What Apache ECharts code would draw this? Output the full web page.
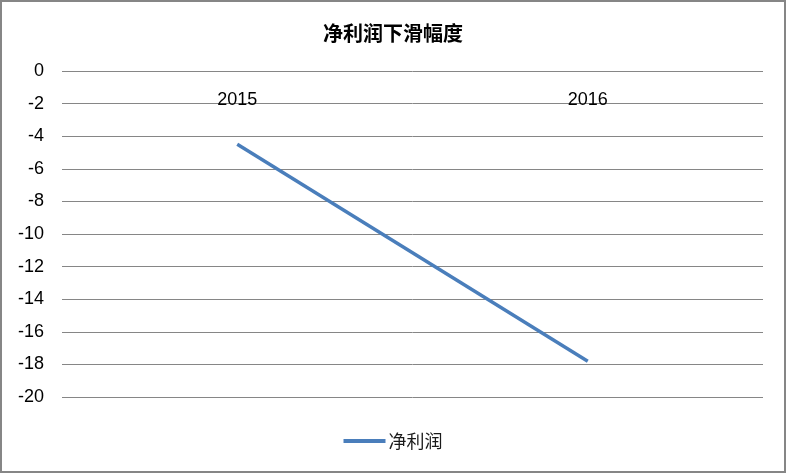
<!DOCTYPE html>
<html><head><meta charset="utf-8">
<script src="https://cdn.jsdelivr.net/npm/echarts@6/dist/echarts.min.js"></script>
<style>
html,body{margin:0;padding:0;background:#fff;}
#c{position:absolute;left:0;top:0;width:782px;height:469px;border:2px solid #868686;}
</style></head>
<body><div id="c"></div>
<script>
const categories = ['2015', '2016'];
const netProfit = [-4.5, -17.8];
const seriesName = '净利润';
const titleText = '净利润下滑幅度';

const chart = echarts.init(document.getElementById('c'));
chart.setOption({
  animation: false,
  backgroundColor: '#fff',
  title: {
    text: titleText, left: 'center', top: 16,
    textStyle: {fontFamily: 'Noto Sans CJK SC', fontSize: 20, fontWeight: 'bold', color: '#000'}
  },
  legend: {
    bottom: 16, left: 'center', itemWidth: 42, itemHeight: 4, itemGap: 4,
    icon: 'rect',
    textStyle: {fontFamily: 'Noto Sans CJK SC', fontSize: 18, color: '#1a1a1a', padding: [0, 0, 0, -2]},
    data: [seriesName]
  },
  grid: {left: 60, right: 21, top: 69, bottom: 74},
  xAxis: {
    type: 'category', data: categories, position: 'top', boundaryGap: true,
    axisLine: {show: false}, axisTick: {show: false},
    axisLabel: {inside: true, margin: 20, fontFamily: 'Liberation Sans', fontSize: 18, color: '#000'}
  },
  yAxis: {
    type: 'value', min: -20, max: 0, interval: 2,
    axisLine: {show: false}, axisTick: {show: false},
    axisLabel: {margin: 18, fontFamily: 'Liberation Sans', fontSize: 18, color: '#000'},
    splitLine: {lineStyle: {color: '#868686', width: 1}}
  },
  series: [{
    name: seriesName, type: 'line', data: netProfit,
    symbol: 'none',
    lineStyle: {color: '#4A7EBB', width: 3.5},
    itemStyle: {color: '#4A7EBB'}
  }]
});
</script></body></html>
